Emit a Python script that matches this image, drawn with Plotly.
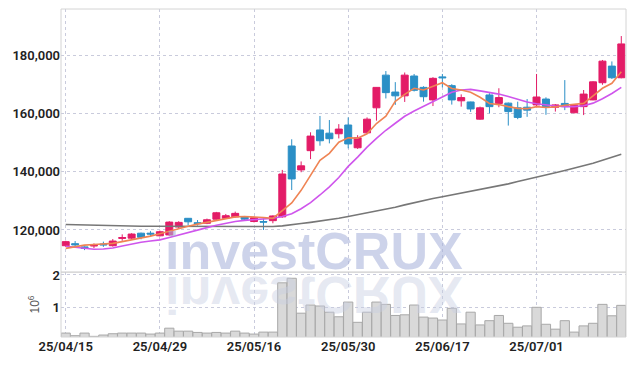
import plotly.graph_objects as go

dates = ["25/04/15","25/04/16","25/04/17","25/04/18","25/04/21","25/04/22","25/04/23","25/04/24","25/04/25","25/04/28",
         "25/04/29","25/04/30","25/05/02","25/05/07","25/05/08","25/05/09","25/05/12","25/05/13","25/05/14","25/05/15",
         "25/05/16","25/05/19","25/05/20","25/05/21","25/05/22","25/05/23","25/05/26","25/05/27","25/05/28","25/05/29",
         "25/05/30","25/06/02","25/06/04","25/06/05","25/06/09","25/06/10","25/06/11","25/06/12","25/06/13","25/06/16",
         "25/06/17","25/06/18","25/06/19","25/06/20","25/06/23","25/06/24","25/06/25","25/06/26","25/06/27","25/06/30",
         "25/07/01","25/07/02","25/07/03","25/07/04","25/07/07","25/07/08","25/07/09","25/07/10","25/07/11","25/07/14"]

open_ = [114600,115300,114200,114500,115200,114600,117100,117200,118900,118900,
         118000,118300,121000,124000,122500,122300,123700,124000,124500,124500,
         122900,122900,123200,124500,148800,140600,147200,154300,153200,153000,
         156000,148200,153300,161900,173100,167300,166000,172800,168900,164600,
         172500,169500,164300,163900,158000,166300,163400,163500,161900,162100,
         162900,164900,162100,163400,160200,162300,164600,170500,176200,172200]
high = [116300,116200,114400,115400,116000,116900,118500,118900,119100,119600,
        119800,123000,123000,124100,123400,123900,126200,125500,126300,124800,
        124500,124000,125000,140600,151100,143500,153500,159100,157700,156300,
        158600,152500,158600,169000,174500,170700,174000,173500,169300,172400,
        173500,170000,166500,164000,162300,166900,168600,163700,164000,164900,
        173500,165500,163200,171400,163200,168000,171000,178300,177800,186500]
low = [114200,114300,113100,113800,114200,114300,116300,116900,116800,117900,
       117800,118000,120700,121700,121500,122000,123500,123800,124300,123400,
       122600,120000,122300,124200,133700,139800,144300,148900,149700,151400,
       148000,147800,153000,157500,165100,162900,163900,167500,164000,162500,
       168900,163000,162300,160500,157800,160000,162100,155800,158000,158800,
       162500,159500,160600,161100,160000,159400,164500,169800,171800,172000]
close = [116000,114900,113700,114700,114900,116200,117400,118600,117500,118600,
         119400,122700,122600,122800,122200,123500,125900,124900,125700,123700,
         124200,122700,124800,139200,137500,142000,152200,150600,151300,154600,
         149500,151600,158000,168900,167100,166000,173100,167900,165700,172000,
         172200,164600,165400,161500,161900,162300,165400,160600,158600,161100,
         165600,162300,162900,162300,162900,166600,170800,177900,172200,183800]

ma5 = [113700,114300,114800,115000,115100,115400,116000,116600,117200,117900,
       118700,119600,120500,121300,122000,122600,123300,123900,124500,124600,
       124500,124300,124000,126500,129300,133600,138700,143900,146300,150100,
       151600,151500,153000,156500,159000,164100,166500,168600,168000,169200,
       170500,168500,168000,167200,165500,163400,163000,162300,161700,161600,
       162300,162000,162200,162800,163000,163400,166000,168600,170300,174300]
ma10 = [114400,114000,113600,113400,113500,113800,114500,115200,115800,116200,
        116600,117400,118300,119200,120000,120800,121600,122300,122900,123300,
        123600,123800,124000,124600,125600,127300,129400,132000,134800,138000,
        141800,145000,148400,151400,154200,156600,159000,160800,162400,164000,
        165800,167200,168000,168200,167700,167200,166600,165800,164900,163900,
        163300,162800,162500,162300,162300,162600,163500,165000,166800,168900]
ma_long = [121900,121800,121700,121600,121500,121500,121400,121400,121300,121300,
           121300,121300,121300,121300,121300,121300,121300,121300,121200,121200,
           121100,121100,121200,121400,121700,122200,122600,123000,123500,124000,
           124600,125200,125800,126400,127100,127800,128600,129400,130100,130800,
           131400,132000,132600,133200,133800,134500,135100,135800,136600,137300,
           138100,138800,139600,140400,141200,142000,142900,143900,145000,146000]

volume_m = [0.22,0.14,0.22,0.12,0.16,0.20,0.22,0.22,0.22,0.19,
            0.22,0.37,0.28,0.28,0.24,0.22,0.24,0.22,0.28,0.22,
            0.19,0.25,0.25,1.76,1.90,0.83,1.08,1.05,0.86,0.72,
            1.17,0.55,0.86,1.17,1.10,0.76,0.78,1.08,0.71,0.68,
            0.62,0.98,0.50,0.86,0.47,0.60,0.76,0.52,0.40,0.44,
            1.01,0.49,0.34,0.60,0.25,0.44,0.52,1.10,0.75,1.07]

x_tick_labels = ["25/04/15","25/04/29","25/05/16","25/05/30","25/06/17","25/07/01"]
price_ticks = [120000,140000,160000,180000]
vol_ticks = [1,2]

RED = "#e31c67"
BLUE = "#2b8fc6"
GRID = "#c9cbdc"
TICKFONT = dict(family="Roboto, Liberation Sans", size=13, color="#222", weight=600)

fig = go.Figure()
fig.add_trace(go.Candlestick(
    x=dates, open=open_, high=high, low=low, close=close,
    increasing=dict(line=dict(color=RED, width=1), fillcolor=RED),
    decreasing=dict(line=dict(color=BLUE, width=1), fillcolor=BLUE),
    whiskerwidth=0, showlegend=False, xaxis="x", yaxis="y"))
fig.add_trace(go.Scatter(x=dates, y=ma_long, mode="lines", line=dict(color="#777777", width=1.6), showlegend=False, yaxis="y"))
fig.add_trace(go.Scatter(x=dates, y=ma10, mode="lines", line=dict(color="#cf55ec", width=1.6), showlegend=False, yaxis="y"))
fig.add_trace(go.Scatter(x=dates, y=ma5, mode="lines", line=dict(color="#ef8454", width=1.6), showlegend=False, yaxis="y"))
fig.add_trace(go.Bar(x=dates, y=volume_m, marker=dict(color="#d9d9d9", line=dict(color="#a8a8a8", width=1)),
                     showlegend=False, yaxis="y2"))

split = 0.198
fig.update_layout(
    width=634, height=366,
    margin=dict(l=61, r=8, t=9, b=29),
    paper_bgcolor="white", plot_bgcolor="white",
    bargap=0.02, boxgap=0.12, boxgroupgap=0.16,
    xaxis=dict(type="category", range=[-0.5, 59.5], anchor="y2", automargin=False,
               tickmode="array", tickvals=x_tick_labels, ticktext=x_tick_labels,
               showgrid=True, gridcolor=GRID, griddash="dot", gridwidth=1,
               ticks="", tickfont=TICKFONT, rangeslider=dict(visible=False),
               showline=False, zeroline=False),
    yaxis=dict(domain=[split, 1], range=[105570, 195780], tickvals=price_ticks, automargin=False,
               tickformat=",d", showgrid=True, gridcolor=GRID, griddash="dot",
               ticks="", tickfont=TICKFONT, zeroline=False),
    yaxis2=dict(domain=[0, split], range=[0.1, 2.09], tickvals=vol_ticks, automargin=False,
                showgrid=True, gridcolor=GRID, griddash="dot", ticks="",
                tickfont=TICKFONT, zeroline=False,
                title=dict(text="10<sup>6</sup>", font=dict(family="Liberation Sans", size=12, color="#555"), standoff=10)),
    shapes=[
        dict(type="rect", xref="paper", yref="paper", x0=0, x1=1, y0=0, y1=1,
             line=dict(color="#d4d4d4", width=1), layer="above"),
        dict(type="line", xref="paper", yref="paper", x0=0, x1=1, y0=split, y1=split,
             line=dict(color="#cccccc", width=1.2), layer="above"),
    ],
    annotations=[
        dict(text="investCRUX", xref="paper", yref="paper", x=0.448, y=0.262,
             xanchor="center", yanchor="middle", showarrow=False,
             font=dict(family="Liberation Sans", size=52, color="rgba(168,180,218,0.58)", weight="bold")),
        dict(text="investCRUX", xref="paper", yref="paper", x=0.448, y=0.128,
             xanchor="center", yanchor="middle", showarrow=False,
             font=dict(family="Liberation Sans", size=52, color="rgba(200,206,226,0.45)", weight="bold")),
    ],
)

post = """
document.body.style.margin = '0';
document.body.style.padding = '0';
var gd = document.getElementById('{plot_id}');
function flipRefl(){
  var t = gd.querySelector('g.annotation[data-index="1"] text');
  if(t){ t.style.transformBox='fill-box'; t.style.transformOrigin='center'; t.style.transform='scaleY(-1)'; }
}
flipRefl();
if (gd.on) { gd.on('plotly_afterplot', flipRefl); }
"""
fig.write_html("out.html", post_script=post, config={"displayModeBar": False})
